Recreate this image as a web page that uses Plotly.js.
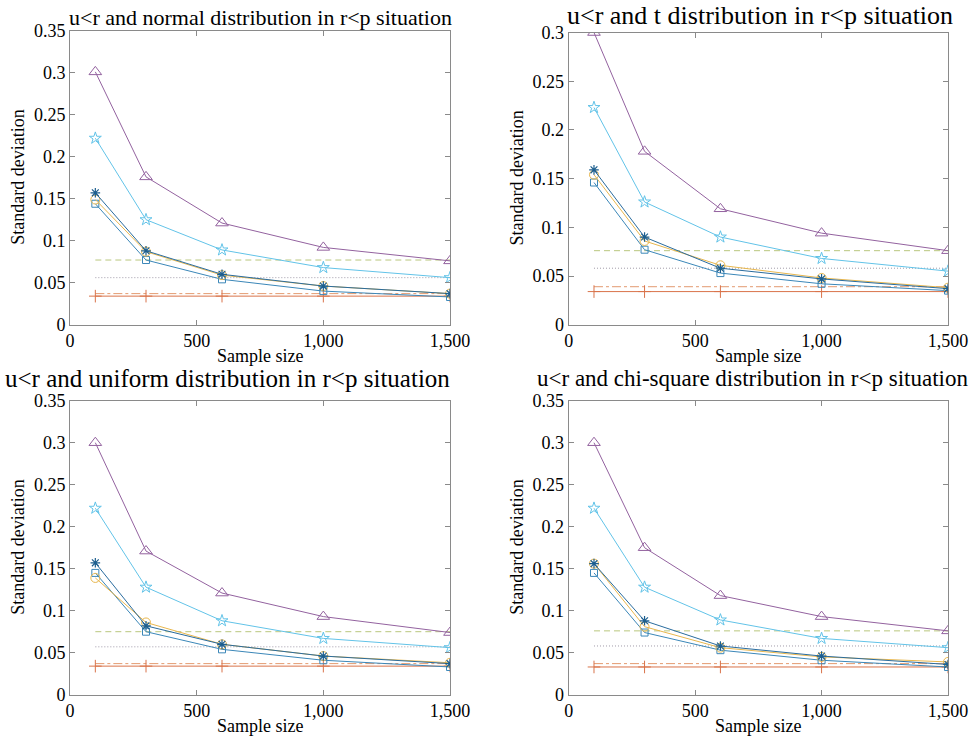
<!DOCTYPE html>
<html><head><meta charset="utf-8">
<script src="https://cdn.plot.ly/plotly-3.0.1.min.js"></script>
<style>body{margin:0;background:#fff}</style></head>
<body><div id="chart" style="width:972px;height:736px"></div>
<script>
// ---------- data ----------
const sampleSizes = [100, 300, 600, 1000, 1500];
const xTickVals = [0, 500, 1000, 1500];
const xTickText = ["0", "500", "1,000", "1,500"];
const panelTitles = [
  "u<r and normal distribution in r<p situation",
  "u<r and t distribution in r<p situation",
  "u<r and uniform distribution in r<p situation",
  "u<r and chi-square distribution in r<p situation"
];
// per panel: [normal, t, uniform, chi-square]
const triangleSeries = [
  [0.301, 0.176, 0.121, 0.092, 0.076],
  [0.300, 0.178, 0.119, 0.094, 0.076],
  [0.300, 0.171, 0.121, 0.093, 0.074],
  [0.300, 0.175, 0.118, 0.093, 0.076]
];
const starSeries = [
  [0.222, 0.125, 0.089, 0.068, 0.056],
  [0.223, 0.126, 0.090, 0.068, 0.055],
  [0.222, 0.128, 0.088, 0.067, 0.056],
  [0.222, 0.128, 0.089, 0.067, 0.056]
];
const asteriskSeries = [
  [0.157, 0.088, 0.060, 0.046, 0.037],
  [0.159, 0.090, 0.058, 0.047, 0.037],
  [0.157, 0.082, 0.060, 0.046, 0.037],
  [0.156, 0.088, 0.058, 0.046, 0.036]
];
const circleSeries = [
  [0.149, 0.087, 0.059, 0.046, 0.037],
  [0.154, 0.086, 0.061, 0.048, 0.038],
  [0.139, 0.086, 0.060, 0.046, 0.038],
  [0.156, 0.081, 0.056, 0.045, 0.039]
];
const squareSeries = [
  [0.144, 0.077, 0.054, 0.040, 0.033],
  [0.146, 0.077, 0.053, 0.042, 0.035],
  [0.145, 0.075, 0.054, 0.041, 0.033],
  [0.145, 0.074, 0.053, 0.041, 0.033]
];
const greenDashLevel = [0.077, 0.076, 0.075, 0.076];
const dottedLevel = [0.056, 0.058, 0.057, 0.058];
const dashDotLevel = [0.037, 0.039, 0.037, 0.037];
const plusLevel = [0.034, 0.034, 0.034, 0.033];
const yRangeTop = [0.35, 0.3, 0.35, 0.35];

// ---------- layout geometry (pixels) ----------
const W = 972, H = 736;
const px = (a, b) => [a / W, b / W];
const py = (top, bottom) => [1 - bottom / H, 1 - top / H];
const panels = [
  {xd: px(70, 450),    yd: py(30.7, 324.7),  tx: 260,   ty: 17,  ts: 22, ylx: 18,  xly: 356},
  {xd: px(568.7, 948), yd: py(32.5, 324.7),  tx: 760,   ty: 16,  ts: 26, ylx: 517, xly: 356},
  {xd: px(70, 450),    yd: py(400.7, 694.7), tx: 227,   ty: 378, ts: 25, ylx: 18,  xly: 726},
  {xd: px(568.7, 948), yd: py(400.7, 694.7), tx: 752.5, ty: 378, ts: 23, ylx: 517, xly: 726}
];

const serif = "Liberation Serif, Times New Roman, serif";
const traces = [];
const layout = {
  width: W, height: H, margin: {l: 0, r: 0, t: 0, b: 0},
  paper_bgcolor: "#fff", plot_bgcolor: "#fff", showlegend: false,
  font: {family: serif, color: "#000", size: 18},
  annotations: []
};
function constLine(v) { return sampleSizes.map(() => v); }

panels.forEach((p, i) => {
  const n = i + 1;
  const xa = "x" + (n === 1 ? "" : n), ya = "y" + (n === 1 ? "" : n);
  const common = {xaxis: xa, yaxis: ya, type: "scatter", hoverinfo: "skip"};
  // horizontal reference levels
  traces.push(Object.assign({}, common, {x: sampleSizes, y: constLine(greenDashLevel[i]), mode: "lines",
    line: {color: "#b9c77e", width: 1, dash: "6px,4px"}}));
  traces.push(Object.assign({}, common, {x: sampleSizes, y: constLine(dottedLevel[i]), mode: "lines",
    line: {color: "#a09aa8", width: 1, dash: "1px,2px"}}));
  traces.push(Object.assign({}, common, {x: sampleSizes, y: constLine(dashDotLevel[i]), mode: "lines",
    line: {color: "#e39a70", width: 1, dash: "dashdot"}}));
  traces.push(Object.assign({}, common, {x: sampleSizes, y: constLine(plusLevel[i]), mode: "lines+markers",
    line: {color: "#d9734a", width: 1},
    marker: {symbol: "cross-thin-open", size: 9, color: "#d9734a", line: {color: "#d9734a", width: 1}}}));
  // curves
  traces.push(Object.assign({}, common, {x: sampleSizes, y: squareSeries[i], mode: "lines+markers",
    line: {color: "#3b87b8", width: 1},
    marker: {symbol: "square-open", size: 7, color: "#3b87b8", line: {color: "#3b87b8", width: 1}}}));
  traces.push(Object.assign({}, common, {x: sampleSizes, y: circleSeries[i], mode: "lines+markers",
    line: {color: "#e8b74e", width: 1},
    marker: {symbol: "circle-open", size: 9, color: "#e8b74e", line: {color: "#e8b74e", width: 1}}}));
  traces.push(Object.assign({}, common, {x: sampleSizes, y: asteriskSeries[i], mode: "lines+markers",
    line: {color: "#2a6c9e", width: 1},
    marker: {symbol: "asterisk-open", size: 8, color: "#1d5f8f", line: {color: "#1d5f8f", width: 1.2}}}));
  traces.push(Object.assign({}, common, {x: sampleSizes, y: starSeries[i], mode: "lines+markers",
    line: {color: "#62c3e8", width: 1},
    marker: {symbol: "star-open", size: 9, color: "#62c3e8", line: {color: "#62c3e8", width: 1}}}));
  traces.push(Object.assign({}, common, {x: sampleSizes, y: triangleSeries[i], mode: "lines+markers",
    line: {color: "#93629f", width: 1},
    marker: {symbol: "triangle-up-open", size: 11, color: "#93629f", line: {color: "#93629f", width: 1}}}));

  const axCommon = {showline: true, linecolor: "#8a8a8a", linewidth: 1, mirror: "ticks",
    ticks: "inside", ticklen: 5, tickcolor: "#8a8a8a", showgrid: false, zeroline: false,
    tickfont: {family: serif, size: 18, color: "#000"}, fixedrange: true};
  layout["xaxis" + (n === 1 ? "" : n)] = Object.assign({}, axCommon, {
    domain: p.xd, anchor: ya, range: [0, 1500], tickvals: xTickVals, ticktext: xTickText});
  const yt = [];
  for (let k = 0; k <= Math.round(yRangeTop[i] / 0.05); k++) yt.push(+(k * 0.05).toFixed(2));
  layout["yaxis" + (n === 1 ? "" : n)] = Object.assign({}, axCommon, {
    domain: p.yd, anchor: xa, range: [0, yRangeTop[i]], tickvals: yt, ticktext: yt.map(String)});

  layout.annotations.push({text: panelTitles[i].replace(/</g, "&lt;"), xref: "paper", yref: "paper",
    x: p.tx / W, y: 1 - p.ty / H, xanchor: "center", yanchor: "middle", showarrow: false,
    font: {family: serif, size: p.ts, color: "#000"}});
  layout.annotations.push({text: "Sample size", xref: "paper", yref: "paper",
    x: (p.xd[0] + p.xd[1]) / 2, y: 1 - p.xly / H, xanchor: "center", yanchor: "middle", showarrow: false,
    font: {family: serif, size: 18, color: "#000"}});
  layout.annotations.push({text: "Standard deviation", xref: "paper", yref: "paper", textangle: -90,
    x: p.ylx / W, y: (p.yd[0] + p.yd[1]) / 2, xanchor: "center", yanchor: "middle", showarrow: false,
    font: {family: serif, size: 18, color: "#000"}});
});

Plotly.newPlot("chart", traces, layout, {staticPlot: true, displayModeBar: false});
</script></body></html>
